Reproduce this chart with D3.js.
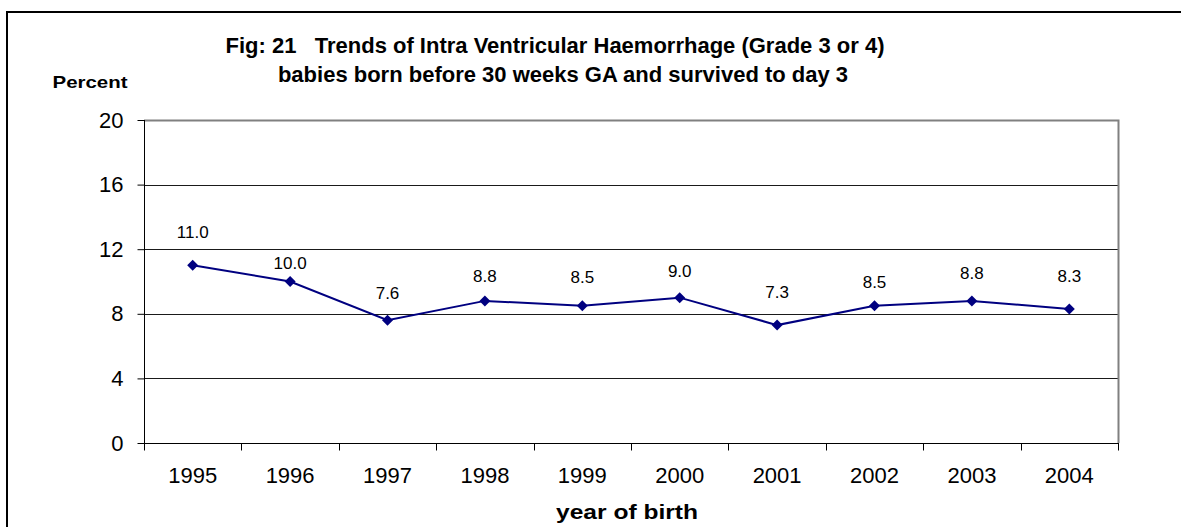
<!DOCTYPE html>
<html>
<head>
<meta charset="utf-8">
<script src="https://cdn.jsdelivr.net/npm/d3@7"></script>
<style>
  body { margin: 0; background: #fff; }
  svg { display: block; font-family: "Liberation Sans", Arial, sans-serif; }
</style>
</head>
<body>
<svg width="1181" height="527"></svg>
<script>
// data
var years = ["1995", "1996", "1997", "1998", "1999", "2000", "2001", "2002", "2003", "2004"];
var ivh = [11.0, 10.0, 7.6, 8.8, 8.5, 9.0, 7.3, 8.5, 8.8, 8.3];
var yTicks = [0, 4, 8, 12, 16, 20];

// label offsets above each marker (px), labels were hand placed in the original
var labelLift = [33, 18, 27, 25, 29, 27, 33, 24, 28, 33];

var svg = d3.select("svg"),
    width = +svg.attr("width"),
    height = +svg.attr("height");

var plotL = 144, plotR = 1118, plotT = 120, plotB = 443;

var x = d3.scaleBand().domain(years).range([plotL, plotR]).padding(0);
var y = d3.scaleLinear().domain([0, 20]).range([plotB, plotT]);

// outer frame (runs off the right and bottom edges)
svg.append("path")
    .attr("d", "M7," + (height + 5) + "V12H" + (width + 5))
    .attr("fill", "none")
    .attr("stroke", "#000")
    .attr("stroke-width", 2);

// gridlines
svg.append("g").selectAll("line")
    .data(yTicks.filter(function(d) { return d > 0 && d < 20; }))
    .enter().append("line")
      .attr("x1", plotL).attr("x2", plotR)
      .attr("y1", function(d) { return Math.round(y(d)) + 0.5; })
      .attr("y2", function(d) { return Math.round(y(d)) + 0.5; })
      .attr("stroke", "#1a1a1a")
      .attr("stroke-width", 1);

// plot area border top/right (gray)
svg.append("path")
    .attr("d", "M" + plotL + "," + (plotT + 0.5) + "H" + (plotR + 0.5) + "V" + plotB)
    .attr("fill", "none")
    .attr("stroke", "#808080")
    .attr("stroke-width", 2);

// y axis
var yAxis = svg.append("g")
    .attr("transform", "translate(" + (plotL + 0.5) + ",0)")
    .call(d3.axisLeft(y).tickValues(yTicks).tickSize(7).tickPadding(14));
yAxis.select(".domain").attr("stroke", "#000").attr("d", "M0," + plotT + "V" + plotB);
yAxis.selectAll(".tick line").attr("stroke", "#000");
yAxis.selectAll("text")
    .attr("font-size", "22px")
    .attr("font-family", "Liberation Sans, Arial, sans-serif")
    .attr("fill", "#000");

// x axis: labels in the middle of each category, ticks on the boundaries
var xAxis = svg.append("g")
    .attr("transform", "translate(0," + (plotB + 0.5) + ")")
    .call(d3.axisBottom(x).tickSize(0).tickPadding(24));
xAxis.select(".domain").attr("stroke", "#000").attr("d", "M" + plotL + ",0H" + (plotR + 1));
xAxis.selectAll("text")
    .attr("font-size", "22px")
    .attr("font-family", "Liberation Sans, Arial, sans-serif")
    .attr("fill", "#000");

var edges = years.map(function(d) { return x(d); }).concat([x.range()[1]]);
xAxis.selectAll(".edge")
    .data(edges)
    .enter().append("line")
      .attr("class", "edge")
      .attr("x1", function(d) { return Math.round(d) + 0.5; })
      .attr("x2", function(d) { return Math.round(d) + 0.5; })
      .attr("y1", 0).attr("y2", 7)
      .attr("stroke", "#000");

// line
var cx = function(i) { return x(years[i]) + x.bandwidth() / 2; };

var line = d3.line()
    .x(function(d, i) { return cx(i); })
    .y(function(d) { return y(d); });

svg.append("path")
    .datum(ivh)
    .attr("d", line)
    .attr("fill", "none")
    .attr("stroke", "#000080")
    .attr("stroke-width", 2);

// diamond markers
svg.append("g").selectAll("path")
    .data(ivh)
    .enter().append("path")
      .attr("d", "M0,-5.5L5.5,0L0,5.5L-5.5,0Z")
      .attr("transform", function(d, i) { return "translate(" + cx(i) + "," + y(d) + ")"; })
      .attr("fill", "#000080");

// value labels
svg.append("g").selectAll("text")
    .data(ivh)
    .enter().append("text")
      .attr("x", function(d, i) { return cx(i); })
      .attr("y", function(d, i) { return y(d) - labelLift[i]; })
      .attr("dy", "0.35em")
      .attr("text-anchor", "middle")
      .attr("font-size", "17px")
      .attr("fill", "#000")
      .text(function(d) { return d3.format(".1f")(d); });

// titles
svg.append("text")
    .attr("x", 555).attr("y", 53)
    .attr("text-anchor", "middle")
    .attr("font-size", "22px")
    .attr("font-weight", "bold")
    .attr("xml:space", "preserve")
    .text("Fig: 21   Trends of Intra Ventricular Haemorrhage (Grade 3 or 4)");

svg.append("text")
    .attr("x", 563).attr("y", 82)
    .attr("text-anchor", "middle")
    .attr("font-size", "22px")
    .attr("font-weight", "bold")
    .text("babies born before 30 weeks GA and survived to day 3");

svg.append("text")
    .attr("x", 90).attr("y", 88)
    .attr("text-anchor", "middle")
    .attr("font-size", "17px")
    .attr("font-weight", "bold")
    .attr("textLength", 75)
    .attr("lengthAdjust", "spacingAndGlyphs")
    .text("Percent");

svg.append("text")
    .attr("x", 627).attr("y", 519)
    .attr("text-anchor", "middle")
    .attr("font-size", "20px")
    .attr("font-weight", "bold")
    .attr("textLength", 142)
    .attr("lengthAdjust", "spacingAndGlyphs")
    .text("year of birth");
</script>
</body>
</html>
